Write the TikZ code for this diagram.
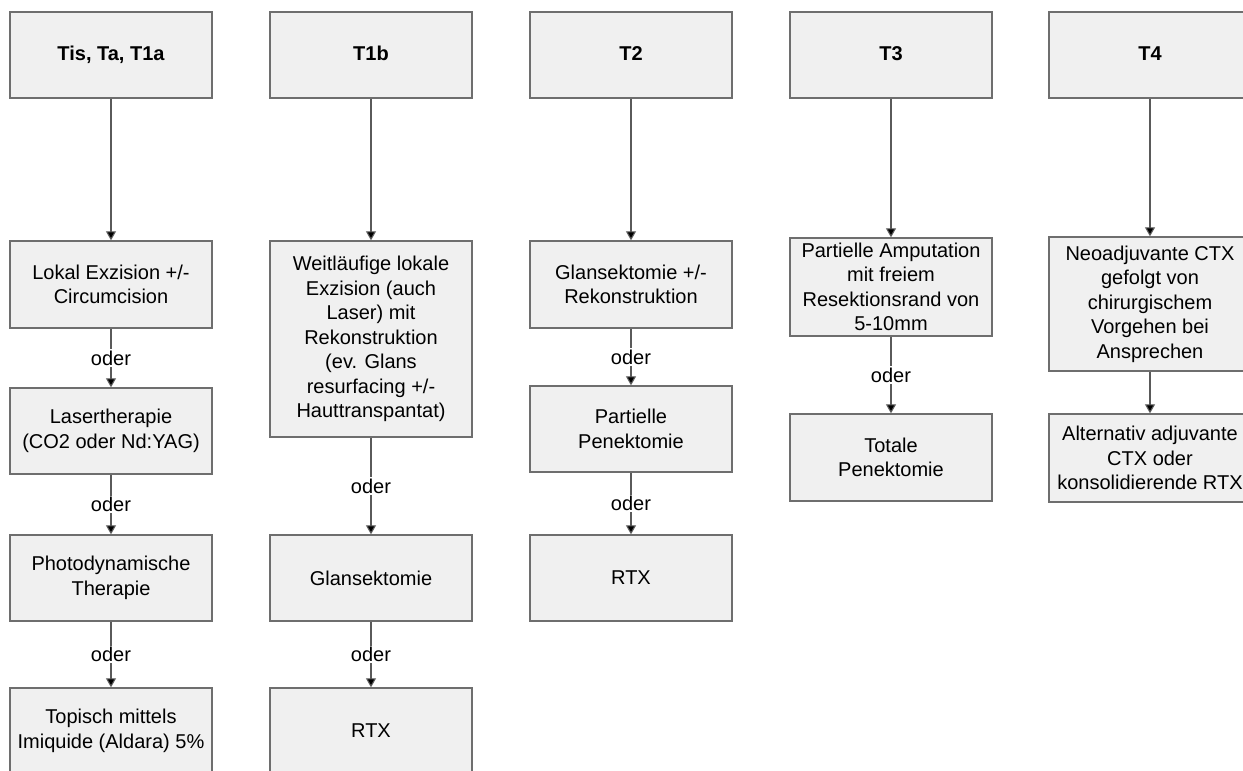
\documentclass[tikz,border=0pt]{standalone}
\usepackage{fontspec}
\setmainfont{Liberation Sans}
\usetikzlibrary{arrows.meta}
\definecolor{boxfill}{HTML}{F0F0F0}
\definecolor{boxline}{HTML}{6E6E6E}
\definecolor{arrline}{HTML}{5A5A5A}
\tikzset{
  stbox/.style={draw=boxline, line width=1.4pt, fill=boxfill, minimum width=202pt, inner sep=0pt, align=center,
    font=\fontsize{20}{24.5}\selectfont},
  headbox/.style={stbox, minimum height=86pt, text height=14.5pt, text depth=4pt, font=\fontsize{20}{24.5}\selectfont\bfseries},
  conn/.style={draw=arrline, line width=1.1pt, -{Triangle[length=9pt,width=10pt,fill=black]}},
  oderlbl/.style={fill=white, inner sep=1.5pt, text=black, font=\fontsize{20}{24.5}\selectfont}
}
\begin{document}
\begin{tikzpicture}[x=1pt,y=-1pt]
\useasboundingbox (0,0) rectangle (1243,771);
\clip (0,0) rectangle (1243,771);
% headers
\node[headbox] (h1) at (111,55) {Tis, Ta, T1a};
\node[headbox] (h2) at (371,55) {T1b};
\node[headbox] (h3) at (631,55) {T2};
\node[headbox] (h4) at (891,55) {T3};
\node[headbox] (h5) at (1150,55) {T4};
% column 1
\node[stbox, minimum height=87pt] (a1) at (111,284.5) {Lokal Exzision +/-\\Circumcision};
\node[stbox, minimum height=86pt] (a2) at (111,431) {Lasertherapie\\(CO2 oder Nd:YAG)};
\node[stbox, minimum height=86pt] (a3) at (111,578) {Photodynamische\\Therapie};
\node[stbox, minimum height=86pt] (a4) at (111,731) {Topisch mittels\\Imiquide (Aldara) 5\%};
% column 2
\node[stbox, minimum height=196pt] (b1) at (371,339) {Weitläufige lokale\\Exzision (auch\\Laser) mit\\Rekonstruktion\\(ev. Glans\\resurfacing +/-\\Hauttranspantat)};
\node[stbox, minimum height=86pt] (b2) at (371,578) {Glansektomie};
\node[stbox, minimum height=86pt] (b3) at (371,731) {RTX};
% column 3
\node[stbox, minimum height=87pt] (c1) at (631,284.5) {Glansektomie +/-\\Rekonstruktion};
\node[stbox, minimum height=86pt] (c2) at (631,429) {Partielle\\Penektomie};
\node[stbox, minimum height=86pt] (c3) at (631,578) {RTX};
% column 4
\node[stbox, minimum height=98pt] (d1) at (891,287) {Partielle Amputation\\mit freiem\\Resektionsrand von\\5-10mm};
\node[stbox, minimum height=87pt] (d2) at (891,457.5) {Totale\\Penektomie};
% column 5
\node[stbox, minimum height=134pt] (e1) at (1150,304) {Neoadjuvante CTX\\gefolgt von\\chirurgischem\\Vorgehen bei\\Ansprechen};
\node[stbox, minimum height=88pt] (e2) at (1150,458) {Alternativ adjuvante\\CTX oder\\konsolidierende RTX};
% connectors
\draw[conn] (h1) -- (a1);
\draw[conn] (a1) -- node[oderlbl]{oder} (a2);
\draw[conn] (a2) -- node[oderlbl]{oder} (a3);
\draw[conn] (a3) -- node[oderlbl]{oder} (a4);
\draw[conn] (h2) -- (b1);
\draw[conn] (b1) -- node[oderlbl]{oder} (b2);
\draw[conn] (b2) -- node[oderlbl]{oder} (b3);
\draw[conn] (h3) -- (c1);
\draw[conn] (c1) -- node[oderlbl]{oder} (c2);
\draw[conn] (c2) -- node[oderlbl]{oder} (c3);
\draw[conn] (h4) -- (d1);
\draw[conn] (d1) -- node[oderlbl]{oder} (d2);
\draw[conn] (h5) -- (e1);
\draw[conn] (e1) -- (e2);
\end{tikzpicture}
\end{document}
